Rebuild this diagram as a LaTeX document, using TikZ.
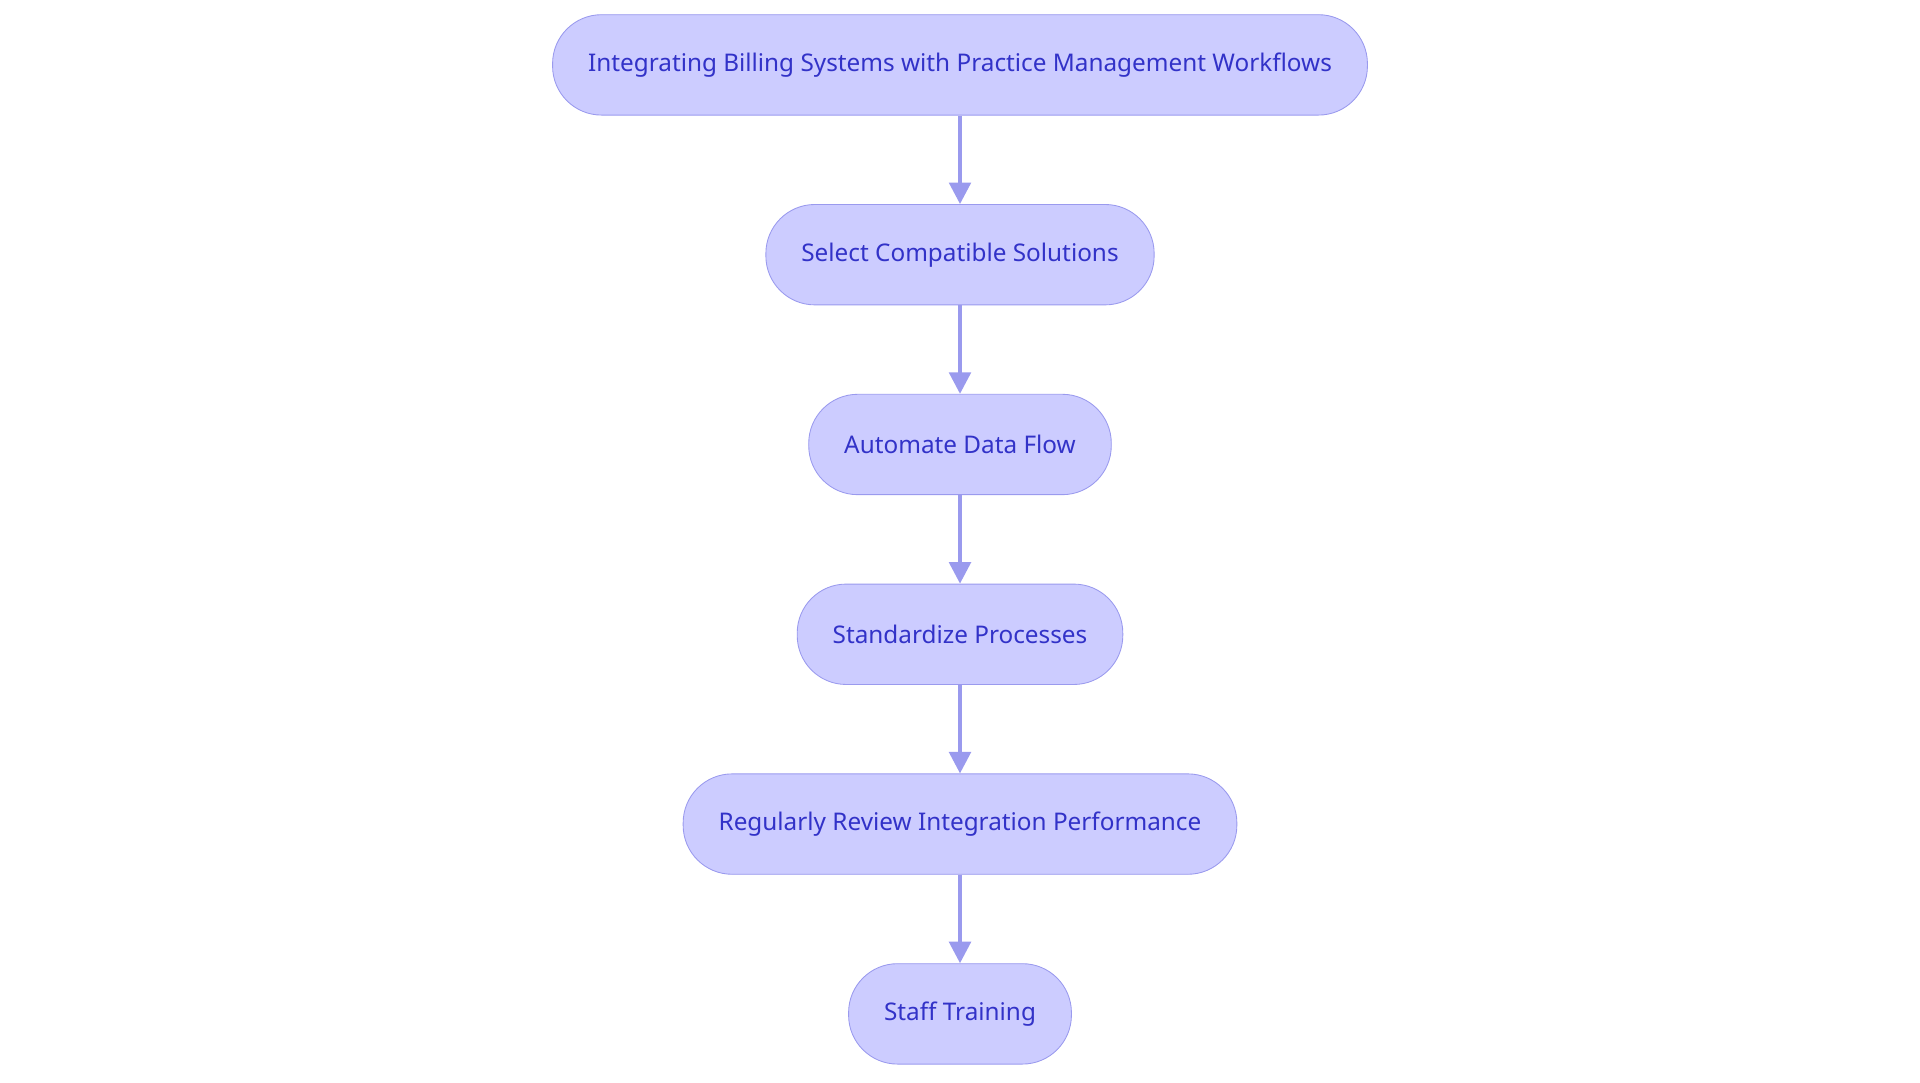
\documentclass[tikz,border=0pt]{standalone}
\usepackage{fontspec}
\setmainfont{Noto Sans}
\usetikzlibrary{positioning}
\usetikzlibrary{arrows.meta}
\definecolor{boxfill}{HTML}{CCCCFF}
\definecolor{boxline}{HTML}{9A9AEE}
\definecolor{boxtext}{HTML}{3232C8}

\begin{document}
\begin{tikzpicture}[x=0.02cm,y=-0.02cm,
	stepbox/.style={draw=boxline, fill=boxfill, text=boxtext, rounded corners=0.8cm,
		minimum height=1.64cm, inner xsep=0.58cm, font=\fontsize{11.3}{13}\selectfont},
	flow/.style={draw=boxline, line width=1.8pt, -{Triangle[length=10pt,width=10pt]}}]
		\useasboundingbox (0,0) rectangle (1568,884);
		\node (s1) [stepbox] at (784,53) {Integrating Billing Systems with Practice Management Workflows};
		\node (s2) [stepbox] at (784,208) {Select Compatible Solutions};
		\node (s3) [stepbox] at (784,363) {Automate Data Flow};
		\node (s4) [stepbox] at (784,518) {Standardize Processes};
		\node (s5) [stepbox] at (784,673) {Regularly Review Integration Performance};
		\node (s6) [stepbox] at (784,828) {Staff Training};
		\draw [flow] (s1) -- (s2);
		\draw [flow] (s2) -- (s3);
		\draw [flow] (s3) -- (s4);
		\draw [flow] (s4) -- (s5);
		\draw [flow] (s5) -- (s6);
\end{tikzpicture}
\end{document}
